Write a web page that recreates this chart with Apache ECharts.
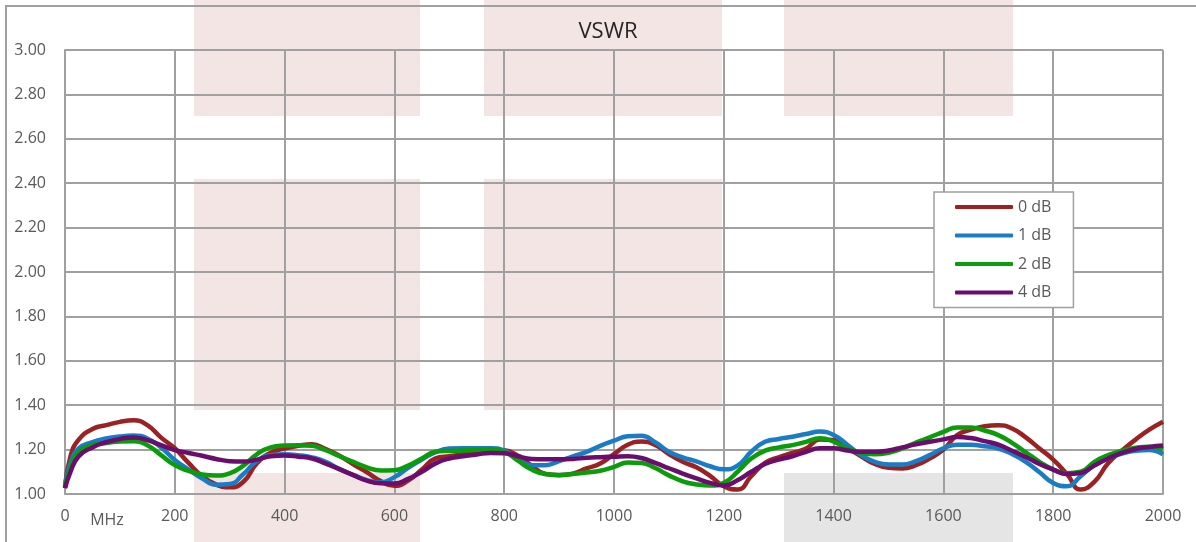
<!DOCTYPE html>
<html>
<head>
<meta charset="utf-8">
<script src="https://cdn.jsdelivr.net/npm/echarts@6/dist/echarts.min.js"></script>
<style>
html,body{margin:0;padding:0;background:#fff;}
#c{width:1196px;height:542px;}
</style>
</head>
<body>
<div id="c"></div>
<script>
const freqs = [0,10,25,50,75,100,125,150,175,200,225,250,275,300,325,350,375,400,425,450,475,500,525,550,575,600,625,650,675,700,725,750,775,800,825,850,875,900,925,950,975,1000,1025,1050,1075,1100,1125,1150,1175,1200,1225,1250,1275,1300,1325,1350,1375,1400,1425,1450,1475,1500,1525,1550,1575,1600,1625,1650,1675,1700,1725,1750,1775,1800,1825,1850,1875,1900,1925,1950,1975,2000];

const vswr0dB = [1.03,1.17,1.245,1.293,1.31,1.325,1.332,1.31,1.254,1.206,1.14,1.08,1.043,1.03,1.055,1.14,1.186,1.205,1.217,1.224,1.202,1.172,1.134,1.098,1.058,1.037,1.06,1.11,1.16,1.17,1.18,1.19,1.198,1.197,1.172,1.128,1.09,1.085,1.092,1.115,1.137,1.18,1.222,1.236,1.221,1.18,1.145,1.12,1.082,1.035,1.02,1.08,1.14,1.165,1.185,1.205,1.245,1.243,1.207,1.17,1.135,1.118,1.115,1.13,1.16,1.2,1.265,1.29,1.305,1.31,1.295,1.255,1.205,1.155,1.09,1.02,1.055,1.138,1.195,1.245,1.29,1.326];

const vswr1dB = [1.04,1.14,1.205,1.234,1.25,1.259,1.263,1.25,1.21,1.153,1.11,1.07,1.042,1.045,1.09,1.15,1.175,1.179,1.175,1.165,1.145,1.112,1.086,1.062,1.052,1.076,1.118,1.155,1.188,1.205,1.206,1.206,1.206,1.195,1.157,1.13,1.13,1.148,1.17,1.19,1.217,1.24,1.26,1.262,1.233,1.19,1.165,1.147,1.125,1.111,1.128,1.19,1.235,1.248,1.258,1.27,1.281,1.266,1.222,1.175,1.145,1.133,1.133,1.148,1.175,1.206,1.222,1.222,1.215,1.205,1.18,1.145,1.098,1.05,1.035,1.08,1.13,1.16,1.182,1.195,1.198,1.179];

const vswr2dB = [1.03,1.12,1.19,1.22,1.23,1.236,1.238,1.22,1.175,1.13,1.104,1.088,1.083,1.093,1.128,1.18,1.21,1.218,1.22,1.217,1.197,1.17,1.145,1.12,1.106,1.107,1.128,1.16,1.19,1.194,1.196,1.198,1.2,1.19,1.15,1.11,1.09,1.086,1.09,1.097,1.105,1.122,1.142,1.14,1.117,1.084,1.057,1.043,1.038,1.05,1.1,1.16,1.195,1.21,1.22,1.235,1.251,1.236,1.205,1.186,1.179,1.186,1.205,1.232,1.255,1.28,1.3,1.3,1.286,1.265,1.23,1.188,1.145,1.11,1.093,1.1,1.145,1.175,1.195,1.208,1.213,1.203];

const vswr4dB = [1.026,1.1,1.17,1.21,1.233,1.248,1.255,1.243,1.22,1.198,1.185,1.172,1.158,1.148,1.146,1.155,1.17,1.173,1.168,1.16,1.137,1.112,1.085,1.06,1.048,1.047,1.068,1.1,1.138,1.16,1.17,1.178,1.185,1.184,1.17,1.158,1.156,1.156,1.158,1.163,1.166,1.168,1.17,1.162,1.14,1.116,1.092,1.07,1.05,1.038,1.062,1.1,1.135,1.155,1.17,1.19,1.206,1.206,1.196,1.19,1.19,1.196,1.21,1.224,1.235,1.246,1.257,1.252,1.238,1.222,1.195,1.167,1.135,1.11,1.09,1.095,1.128,1.16,1.185,1.203,1.212,1.218];

const seriesNames = ['0 dB','1 dB','2 dB','4 dB'];
const seriesColors = ['#9b2222','#1a7cc4','#0a9c0a','#6b0d6e'];
const seriesValues = [vswr0dB, vswr1dB, vswr2dB, vswr4dB];

const pink = '#f4e5e5';
const grey = '#e5e5e5';
const bgRects = [
  [194,0,226,116,pink],[484,0,238,116,pink],[784,0,229,116,pink],
  [194,179,226,231,pink],[484,179,238,231,pink],
  [194,473,226,80,pink],[784,473,229,80,grey]
];

const chart = echarts.init(document.getElementById('c'));
const gridColor = '#a0a0a0';
const labelFont = {color:'#595959', fontSize:16, fontFamily:'Open Sans'};

const graphics = bgRects.map(r => ({
  type:'rect', z:-10, silent:true,
  shape:{x:r[0], y:r[1], width:r[2], height:r[3]},
  style:{fill:r[4]}
}));
graphics.push({
  type:'rect', z:-9, silent:true,
  shape:{x:6, y:6, width:1300, height:700},
  style:{fill:null, stroke:gridColor, lineWidth:2}
});
graphics.push({
  type:'text', z:5, silent:true, x:107, y:520,
  style:{text:'MHz', fill:'#595959', font:'16px "Open Sans"', textAlign:'center', textVerticalAlign:'middle'}
});

chart.setOption({
  animation:false,
  backgroundColor:'#ffffff',
  title:{text:'VSWR', left:603, top:16, textAlign:'center',
    textStyle:{color:'#262626', fontSize:22, fontWeight:'normal', fontFamily:'Open Sans'}},
  graphic:graphics,
  legend:{
    orient:'vertical', left:934, top:192,
    padding:[7,22,7,21], itemGap:12.5, itemWidth:58, itemHeight:4,
    icon:'roundRect',
    backgroundColor:'#ffffff', borderColor:gridColor, borderWidth:1.5,
    textStyle:{color:'#595959', fontSize:16, fontFamily:'Open Sans'},
    data:seriesNames
  },
  grid:{left:65, right:33, top:50, bottom:48, containLabel:false},
  xAxis:{
    type:'value', min:0, max:2000, interval:200,
    axisLine:{show:true, lineStyle:{color:gridColor, width:2}},
    axisTick:{show:false},
    splitLine:{show:true, lineStyle:{color:gridColor, width:2}},
    axisLabel:Object.assign({margin:14, formatter:v => String(v)}, labelFont)
  },
  yAxis:{
    type:'value', min:1, max:3, interval:0.2,
    axisLine:{show:true, lineStyle:{color:gridColor, width:2}},
    axisTick:{show:false},
    splitLine:{show:true, lineStyle:{color:gridColor, width:2}},
    axisLabel:Object.assign({margin:19, formatter:v => v.toFixed(2)}, labelFont)
  },
  series:seriesNames.map((n,i) => ({
    name:n, type:'line', smooth:0.5, symbol:'none', z:3+i,
    lineStyle:{color:seriesColors[i], width:4.5},
    itemStyle:{color:seriesColors[i]},
    data:freqs.map((f,j) => [f, seriesValues[i][j]])
  }))
});
</script>
</body>
</html>
